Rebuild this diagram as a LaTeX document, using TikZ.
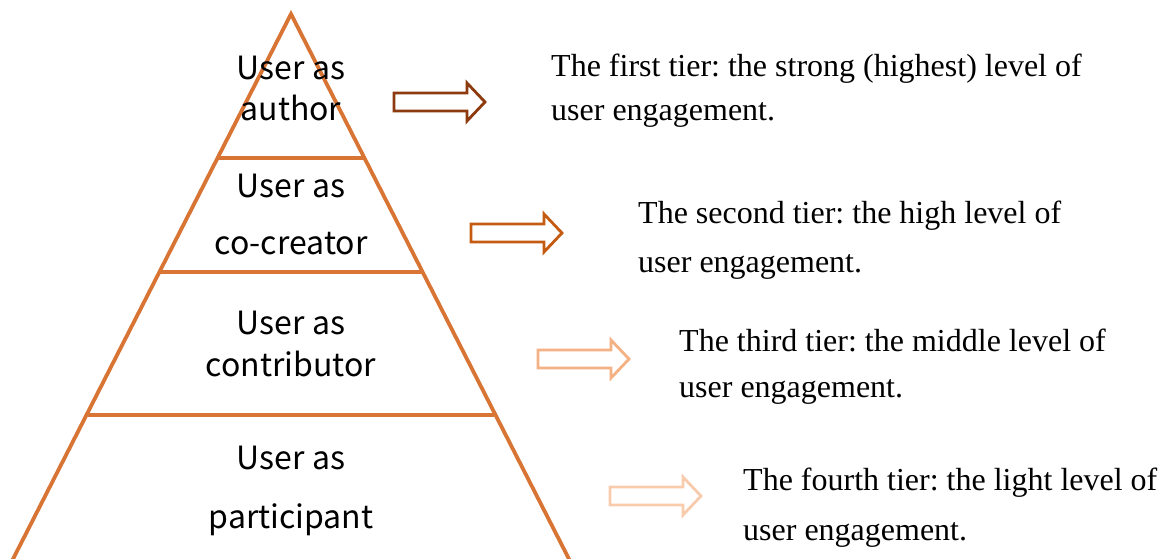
\documentclass[tikz,border=0pt]{standalone}
\usepackage{fontspec}
\setmainfont{Liberation Serif}
\newfontfamily\cjk{Noto Sans CJK SC}
\frenchspacing
\definecolor{pyr}{RGB}{216,116,52}
\definecolor{arrA}{RGB}{140,58,14}
\definecolor{arrB}{RGB}{197,90,17}
\definecolor{arrC}{RGB}{244,177,131}
\definecolor{arrD}{RGB}{248,203,173}
\tikzset{
  tierlabel/.style={anchor=base, inner sep=0pt, text=black, font=\cjk\fontsize{32}{38}\selectfont},
  desc/.style={anchor=base west, inner sep=0pt, font=\fontsize{32}{38}\selectfont},
  pyrline/.style={draw=pyr, line width=3.8pt, line join=miter},
  blockarrow/.pic={
    \draw[line width=2.8pt, line join=miter, fill=white]
      (0,-9) -- (73,-9) -- (73,-19) -- (91,0) -- (73,19) -- (73,9) -- (0,9) -- cycle;
  }
}
\begin{document}
\begin{tikzpicture}[x=1pt, y=-1pt]
\useasboundingbox (0,0) rectangle (1162,558);
% pyramid outline and tier dividers (the base sits on the lower page edge)
\coordinate (apex) at (291,14);
\coordinate (bl) at (12,561);
\coordinate (br) at (570,561);
\draw[pyrline] (bl) -- (apex) -- (br);
\draw[pyrline, draw=pyr!25] (bl) -- (br);
\draw[pyrline] (218,158) -- (364,158);
\draw[pyrline] (160,272) -- (422,272);
\draw[pyrline] (88,415) -- (494,415);
% tier labels, one node per printed line
\node[tierlabel] (t1a) at (291,79)  {User as};
\node[tierlabel] (t1b) at (291,120) {author};
\node[tierlabel] (t2a) at (291,197) {User as};
\node[tierlabel] (t2b) at (291,254) {co-creator};
\node[tierlabel] (t3a) at (291,334) {User as};
\node[tierlabel] (t3b) at (291,376) {contributor};
\node[tierlabel] (t4a) at (291,469) {User as};
\node[tierlabel] (t4b) at (291,528) {participant};
% block arrows
\pic[draw=arrA] at (394,102) {blockarrow};
\pic[draw=arrB] at (471,233) {blockarrow};
\pic[draw=arrC] at (538,359) {blockarrow};
\pic[draw=arrD] at (610,496) {blockarrow};
% tier descriptions
\node[desc] (d1a) at (551,76)  {The first tier: the strong (highest) level of};
\node[desc] (d1b) at (551,120) {user engagement.};
\node[desc] (d2a) at (638,223) {The second tier: the high level of};
\node[desc] (d2b) at (638,272) {user engagement.};
\node[desc] (d3a) at (679,351) {The third tier: the middle level of};
\node[desc] (d3b) at (679,397) {user engagement.};
\node[desc] (d4a) at (743,490) {The fourth tier: the light level of};
\node[desc] (d4b) at (743,540) {user engagement.};
\end{tikzpicture}
\end{document}
